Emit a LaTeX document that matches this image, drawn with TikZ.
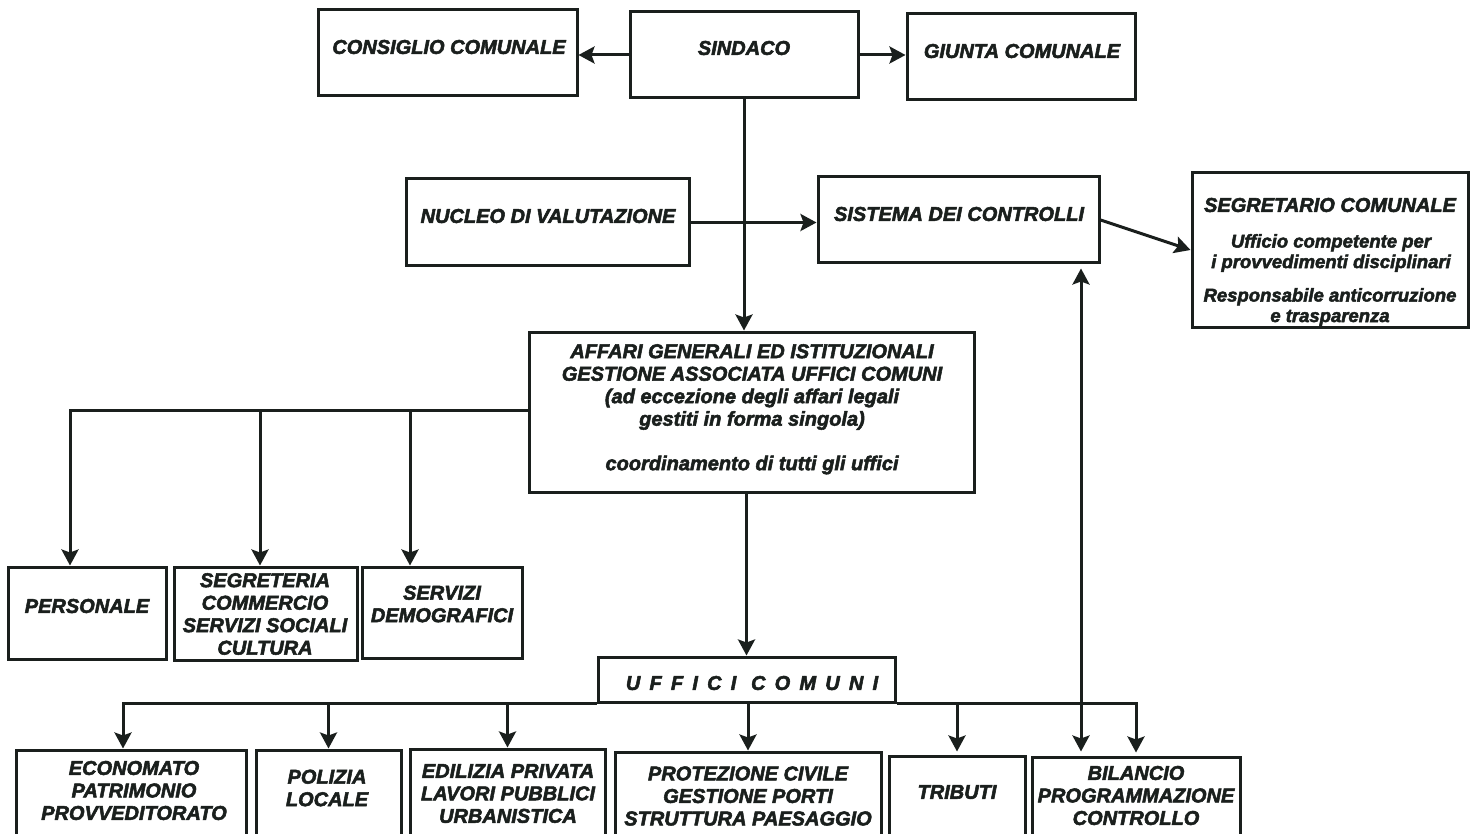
\documentclass[tikz,border=0pt]{standalone}
\usepackage{fontspec}
\setmainfont{Liberation Sans}
\newfontfamily\heavy[BoldItalicFont={Liberation Sans Bold Italic}, BoldItalicFeatures={FakeBold=2.6}]{Liberation Sans}
\usetikzlibrary{arrows.meta}
\definecolor{ink}{HTML}{1A1F1D}
\begin{document}
\begin{tikzpicture}[x=1pt,y=-1pt,
  box/.style={draw=ink, line width=3pt, inner sep=0pt},
  txt/.style={font=\heavy\fontsize{20}{22.5}\selectfont\bfseries\itshape, text=ink, align=center, inner sep=0pt},
  small/.style={font=\heavy\fontsize{18.5}{20.5}\selectfont\bfseries\itshape, text=ink, align=center, inner sep=0pt},
  conn/.style={draw=ink, line width=3pt},
  arr/.style={conn, -{Stealth[length=16pt,width=17pt,inset=3pt]}},
  darr/.style={conn, {Stealth[length=16pt,width=17pt,inset=3pt]}-{Stealth[length=16pt,width=17pt,inset=3pt]}},
]
\fill[white] (0,0) rectangle (1475,834);
\useasboundingbox (0,0) rectangle (1475,834);
\clip (0,0) rectangle (1475,834);

% top row
\node[box, minimum width=259pt, minimum height=86pt] (cons) at (447.5,53) {};
\node[txt] (tcons) at (449,47) {CONSIGLIO COMUNALE};
\node[box, minimum width=228pt, minimum height=86pt] (sind) at (744,55) {};
\node[txt] (tsind) at (744,48) {SINDACO};
\node[box, minimum width=228pt, minimum height=86pt] (giu) at (1021,57) {};
\node[txt] (tgiu) at (1022,51) {GIUNTA COMUNALE};

% second row
\node[box, minimum width=283pt, minimum height=87pt] (nuc) at (547.5,222.5) {};
\node[txt] (tnuc) at (548,216) {NUCLEO DI VALUTAZIONE};
\node[box, minimum width=281pt, minimum height=86pt] (sist) at (958.5,220) {};
\node[txt] (tsist) at (959,214) {SISTEMA DEI CONTROLLI};
\node[box, minimum width=276pt, minimum height=154pt] (segr) at (1330,250) {};
\node[txt] (tsegr1) at (1330,205) {SEGRETARIO COMUNALE};
\node[small] (tsegr2) at (1331,253) {Ufficio competente per\\i provvedimenti disciplinari};
\node[small] (tsegr3) at (1330,307) {Responsabile anticorruzione\\e trasparenza};

% affari generali
\node[box, minimum width=445pt, minimum height=160pt] (aff) at (751.5,412) {};
\node[txt] (taff1) at (752,387) {AFFARI GENERALI ED ISTITUZIONALI\\GESTIONE ASSOCIATA UFFICI COMUNI\\(ad eccezione degli affari legali\\gestiti in forma singola)};
\node[txt] (taff2) at (752,465) {coordinamento di tutti gli uffici};

% left group
\node[box, minimum width=158pt, minimum height=92pt] (pers) at (87,613) {};
\node[txt] (tpers) at (87,606) {PERSONALE};
\node[box, minimum width=183pt, minimum height=93pt] (segt) at (265.5,613.5) {};
\node[txt] (tsegt) at (265,614) {SEGRETERIA\\COMMERCIO\\SERVIZI SOCIALI\\CULTURA};
\node[box, minimum width=160pt, minimum height=91pt] (serv) at (442,612.5) {};
\node[txt] (tserv) at (442,604) {SERVIZI\\DEMOGRAFICI};

% uffici comuni
\node[box, minimum width=297pt, minimum height=45pt] (uff) at (746.5,679.5) {};
\node[txt, font=\heavy\fontsize{20}{22.5}\selectfont\bfseries\itshape\addfontfeatures{LetterSpace=46}] (tuff) at (752,683) {UFFICI COMUNI};

% bottom row
\node[box, minimum width=230pt, minimum height=100pt] (econ) at (131,800) {};
\node[txt] (tecon) at (134,790.5) {ECONOMATO\\PATRIMONIO\\PROVVEDITORATO};
\node[box, minimum width=145pt, minimum height=100pt] (pol) at (328.5,800) {};
\node[txt] (tpol) at (327,788) {POLIZIA\\LOCALE};
\node[box, minimum width=195pt, minimum height=101pt] (edi) at (507.5,799.5) {};
\node[txt] (tedi) at (508,793.5) {EDILIZIA PRIVATA\\LAVORI PUBBLICI\\URBANISTICA};
\node[box, minimum width=266pt, minimum height=98pt] (prot) at (748,801) {};
\node[txt] (tprot) at (748,796) {PROTEZIONE CIVILE\\GESTIONE PORTI\\STRUTTURA PAESAGGIO};
\node[box, minimum width=136pt, minimum height=94pt] (trib) at (957,803) {};
\node[txt] (ttrib) at (957,792) {TRIBUTI};
\node[box, minimum width=208pt, minimum height=93pt] (bil) at (1136,803.5) {};
\node[txt] (tbil) at (1136,795.5) {BILANCIO\\PROGRAMMAZIONE\\CONTROLLO};

% connectors top
\draw[arr] (sind.west) -- (sind.west -| cons.east);
\draw[arr] (sind.east) -- (sind.east -| giu.west);
\draw[arr] (sind.south) -- (sind.south |- aff.north);
\draw[arr] (nuc.east) -- (nuc.east -| sist.west);
\draw[arr] (sist.east) -- (segr.west);

% left bus
\coordinate (bl) at (0,410);
\coordinate (d1) at (70,410);
\coordinate (d2) at (260,410);
\coordinate (d3) at (410,410);
\draw[arr] (aff.west |- bl) -| (d1 |- pers.north);
\draw[arr] (d2) -- (d2 |- segt.north);
\draw[arr] (d3) -- (d3 |- serv.north);

% to uffici comuni
\draw[arr] (uff.north |- aff.south) -- (uff.north);

% bottom bus
\coordinate (e1) at (123,702);
\draw[arr] (uff.south west) -| (e1 |- econ.north);
\draw[arr] (uff.south east) -| ([yshift=3pt]bil.north);
\draw[arr] (pol.north |- uff.south) -- (pol.north);
\draw[arr] (edi.north |- uff.south) -- (edi.north);
\draw[arr] (prot.north |- uff.south) -- (prot.north);
\draw[arr] (trib.north |- uff.south) -- ([yshift=3pt]trib.north);

% double arrow
\coordinate (vx) at (1081,0);
\draw[darr, shorten <=4pt, shorten >=4pt] (vx |- bil.north) -- (vx |- sist.south);
\end{tikzpicture}
\end{document}
